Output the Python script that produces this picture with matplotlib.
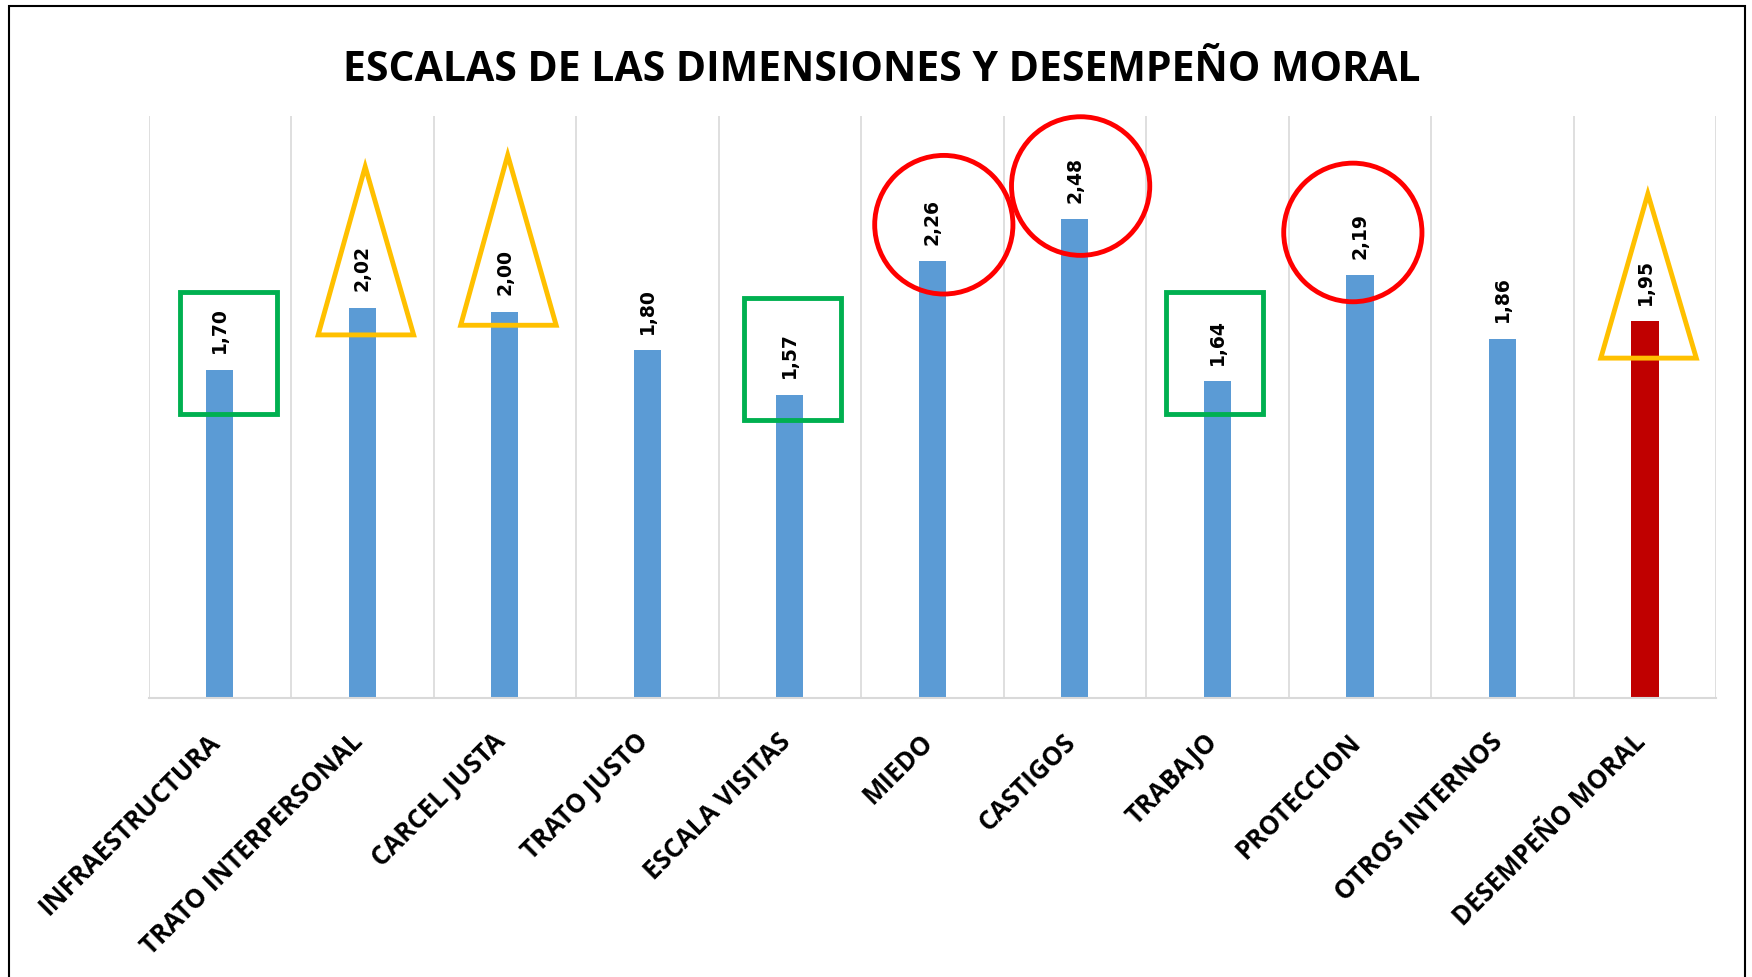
import matplotlib.pyplot as plt
import matplotlib.transforms as mtransforms
from matplotlib.patches import Rectangle, Polygon, Ellipse
import numpy as np

categorias = ['INFRAESTRUCTURA', 'TRATO INTERPERSONAL', 'CARCEL JUSTA', 'TRATO JUSTO',
              'ESCALA VISITAS', 'MIEDO', 'CASTIGOS', 'TRABAJO', 'PROTECCION',
              'OTROS INTERNOS', 'DESEMPEÑO MORAL']
valores = [1.70, 2.02, 2.00, 1.80, 1.57, 2.26, 2.48, 1.64, 2.19, 1.86, 1.95]
etiquetas = ['1,70', '2,02', '2,00', '1,80', '1,57', '2,26', '2,48', '1,64', '2,19', '1,86', '1,95']

# marcas de resaltado
cuadros = [(0, 0.06, 1.47, 2.10), (4, 0.02, 1.44, 2.07), (7, -0.02, 1.47, 2.10)]  # (cat, dx, y0, y1)
triangulos = [(1, 1.88, 2.75), (2, 1.93, 2.81), (10, 1.76, 2.61)]  # (cat, base, punta)
circulos = [(5, 0.08, 2.45), (6, 0.04, 2.65), (8, -0.05, 2.41)]  # (cat, dx, y centro)

azul = '#5B9BD5'
rojo_oscuro = '#C00000'
colores = [azul] * 10 + [rojo_oscuro]

plt.rcParams['font.family'] = ['Open Sans', 'DejaVu Sans']

fig = plt.figure(figsize=(17.52, 9.78), dpi=100)
ax = fig.add_axes([0.0848, 0.2849, 0.8948, 0.595])

x = np.arange(len(categorias))
ax.bar(x, valores, width=0.19, color=colores, zorder=2)
ax.set_xlim(-0.5, len(categorias) - 0.5)
ax.set_ylim(0, 3.01)

for xi, v, t in zip(x, valores, etiquetas):
    ax.annotate(t, (xi, v), xytext=(0, 12.5), textcoords='offset points',
                rotation=90, ha='center', va='bottom', fontsize=13.5,
                fontweight='bold', family='DejaVu Sans', zorder=4)

# lineas verticales entre categorias
for b in np.arange(-0.5, len(categorias), 1.0):
    ax.axvline(b, color='#d9d9d9', lw=1.2, zorder=0)

for s in ['top', 'right', 'left']:
    ax.spines[s].set_visible(False)
ax.spines['bottom'].set_color('#d9d9d9')
ax.spines['bottom'].set_linewidth(1.5)
ax.set_yticks([])
ax.set_xticks(x)
ax.set_xticklabels(categorias, rotation=45, ha='right', rotation_mode='anchor',
                   fontsize=18.5, fontweight='bold')
ax.tick_params(axis='x', length=0, pad=21)
desplaza = mtransforms.ScaledTranslation(-13 / 100, 0, fig.dpi_scale_trans)
for lbl in ax.get_xticklabels():
    lbl.set_transform(lbl.get_transform() + desplaza)

# resaltados
for i, dx, y0, y1 in cuadros:
    ax.add_patch(Rectangle((i + dx - 0.34, y0), 0.68, y1 - y0, fill=False,
                           edgecolor='#00B050', lw=3.5, zorder=3, clip_on=False))
for i, y0, y1 in triangulos:
    ax.add_patch(Polygon([(i - 0.31, y0), (i + 0.36, y0), (i + 0.02, y1)], closed=True,
                         fill=False, edgecolor='#FFC000', lw=3.5, zorder=3, clip_on=False))
for i, dx, yc in circulos:
    ax.add_patch(Ellipse((i + dx, yc), 0.97, 0.717, fill=False,
                         edgecolor='#FF0000', lw=3.5, zorder=3, clip_on=False))

fig.text(0.503, 0.928, 'ESCALAS DE LAS DIMENSIONES Y DESEMPEÑO MORAL',
         ha='center', va='center', fontsize=29.5, fontweight='bold')

fig.patches.append(Rectangle((9 / 1752, -0.01), 1736 / 1752, 1.01 - 7 / 978,
                             transform=fig.transFigure, fill=False,
                             edgecolor='black', lw=1.5))

fig.savefig('out.png', dpi=100)
